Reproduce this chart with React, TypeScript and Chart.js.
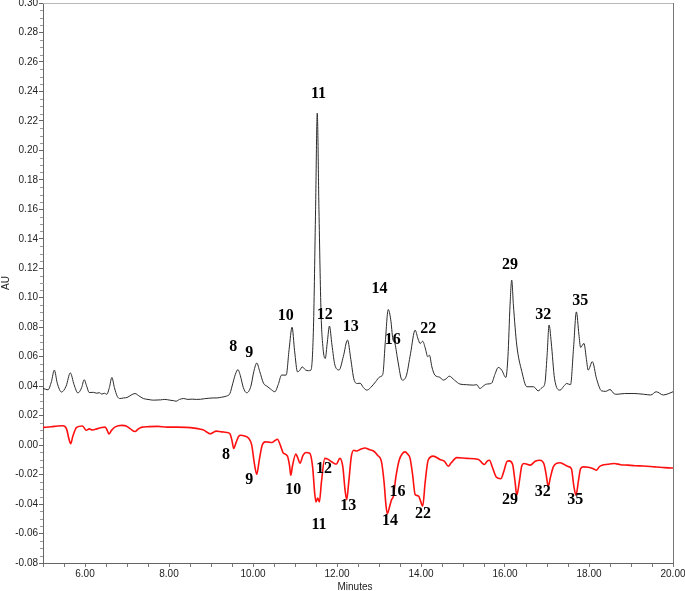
import React, { useEffect, useRef } from "react";
import { Chart, registerables } from "chart.js";

Chart.register(...registerables);

// Black trace (upper chromatogram): time (min) and absorbance (AU)
const blackTimes = [
  5.0, 5.12, 5.2, 5.27, 5.34, 5.44, 5.55, 5.65, 5.74, 5.83, 5.92, 5.98, 6.04, 6.1, 6.2, 6.28, 6.34, 6.4, 6.46, 6.52,
  6.58, 6.64, 6.7, 6.77, 6.83, 6.92, 7.0, 7.1, 7.19, 7.28, 7.39, 7.5, 7.63, 7.8, 7.9, 8.02, 8.1, 8.17, 8.25, 8.35,
  8.45, 8.55, 8.65, 8.75, 8.85, 8.95, 9.05, 9.14, 9.25, 9.37, 9.45, 9.52, 9.58, 9.64, 9.7, 9.77, 9.85, 9.95, 10.02,
  10.09, 10.16, 10.25, 10.33, 10.42, 10.52, 10.6, 10.68, 10.79, 10.86, 10.93, 10.99, 11.06, 11.12, 11.17, 11.25,
  11.32, 11.38, 11.44, 11.49, 11.53, 11.57, 11.62, 11.67, 11.72, 11.77, 11.82, 11.88, 11.95, 12.05, 12.15, 12.25,
  12.33, 12.4, 12.48, 12.55, 12.63, 12.71, 12.8, 12.92, 13.02, 13.09, 13.15, 13.22, 13.28, 13.33, 13.38, 13.45,
  13.55, 13.65, 13.75, 13.86, 13.93, 13.98, 14.04, 14.1, 14.16, 14.2, 14.26, 14.33, 14.45, 14.53, 14.6, 14.67, 14.8,
  14.93, 15.08, 15.25, 15.33, 15.4, 15.48, 15.56, 15.68, 15.76, 15.84, 15.92, 16.02, 16.07, 16.12, 16.16, 16.2,
  16.28, 16.4, 16.52, 16.68, 16.79, 16.88, 16.95, 17.0, 17.05, 17.1, 17.18, 17.31, 17.4, 17.47, 17.56, 17.63, 17.7,
  17.76, 17.8, 17.88, 17.94, 17.98, 18.08, 18.18, 18.3, 18.4, 18.5, 18.6, 18.67, 18.85, 19.07, 19.3, 19.47, 19.6,
  19.77, 19.9, 20.0,
];
const blackValues = [
  0.0385, 0.0375, 0.043, 0.0509, 0.042, 0.036, 0.04, 0.049, 0.041, 0.0354, 0.039, 0.0444, 0.04, 0.0357, 0.0358,
  0.0352, 0.0356, 0.0346, 0.0352, 0.0345, 0.039, 0.0459, 0.039, 0.033, 0.0316, 0.032, 0.0323, 0.034, 0.035, 0.0335,
  0.0316, 0.031, 0.0305, 0.0307, 0.031, 0.0305, 0.0302, 0.0298, 0.031, 0.0316, 0.031, 0.0312, 0.031, 0.0311, 0.0315,
  0.0318, 0.032, 0.032, 0.0325, 0.0333, 0.035, 0.042, 0.048, 0.0512, 0.047, 0.039, 0.0355, 0.04, 0.05, 0.0557, 0.05,
  0.042, 0.04, 0.038, 0.0362, 0.041, 0.0475, 0.0475, 0.065, 0.08, 0.064, 0.0497, 0.051, 0.0531, 0.051, 0.0505,
  0.0509, 0.08, 0.16, 0.2253, 0.16, 0.09, 0.065, 0.0588, 0.07, 0.0808, 0.068, 0.0543, 0.051, 0.06, 0.0713, 0.058,
  0.045, 0.0418, 0.042, 0.039, 0.0373, 0.039, 0.043, 0.0463, 0.048, 0.07, 0.092, 0.085, 0.072, 0.0689, 0.057,
  0.0441, 0.047, 0.062, 0.078, 0.072, 0.0689, 0.0705, 0.066, 0.06, 0.061, 0.053, 0.0475, 0.046, 0.0441, 0.045,
  0.0468, 0.044, 0.0414, 0.041, 0.0407, 0.041, 0.0384, 0.04, 0.0414, 0.042, 0.048, 0.0527, 0.051, 0.0459, 0.06,
  0.095, 0.112, 0.095, 0.0679, 0.05, 0.0396, 0.0396, 0.0368, 0.039, 0.042, 0.06, 0.0815, 0.07, 0.045, 0.0373, 0.04,
  0.0418, 0.041, 0.065, 0.0904, 0.075, 0.0663, 0.069, 0.058, 0.0509, 0.0566, 0.045, 0.0368, 0.0365, 0.0377, 0.0348,
  0.0345, 0.035, 0.035, 0.0345, 0.034, 0.0362, 0.034, 0.035, 0.0362,
];

// Red trace (lower, inverted chromatogram)
const redTimes = [
  5.0, 5.2, 5.35, 5.48, 5.56, 5.62, 5.66, 5.71, 5.8, 5.94, 6.03, 6.1, 6.18, 6.28, 6.4, 6.48, 6.53, 6.57, 6.63, 6.72,
  6.88, 6.98, 7.08, 7.19, 7.27, 7.36, 7.5, 7.73, 7.95, 8.2, 8.4, 8.6, 8.75, 8.84, 8.92, 8.98, 9.05, 9.12, 9.25, 9.37,
  9.45, 9.5, 9.54, 9.6, 9.66, 9.71, 9.8, 9.9, 9.97, 10.03, 10.09, 10.15, 10.22, 10.29, 10.37, 10.45, 10.52, 10.58,
  10.65, 10.72, 10.82, 10.87, 10.9, 10.94, 11.02, 11.07, 11.12, 11.19, 11.26, 11.35, 11.42, 11.47, 11.5, 11.54,
  11.58, 11.63, 11.71, 11.78, 11.87, 11.98, 12.07, 12.14, 12.19, 12.23, 12.28, 12.34, 12.4, 12.47, 12.55, 12.67,
  12.77, 12.87, 12.97, 13.06, 13.12, 13.17, 13.2, 13.25, 13.3, 13.34, 13.4, 13.48, 13.55, 13.62, 13.68, 13.74, 13.8,
  13.86, 13.94, 13.99, 14.04, 14.1, 14.17, 14.29, 14.45, 14.56, 14.65, 14.72, 14.85, 15.1, 15.37, 15.45, 15.51,
  15.57, 15.63, 15.7, 15.79, 15.9, 15.97, 16.05, 16.1, 16.18, 16.24, 16.28, 16.34, 16.4, 16.45, 16.6, 16.72, 16.83,
  16.93, 16.98, 17.03, 17.08, 17.15, 17.22, 17.31, 17.4, 17.5, 17.58, 17.64, 17.69, 17.75, 17.8, 17.87, 17.99, 18.1,
  18.18, 18.25, 18.31, 18.45, 18.6, 18.75, 18.92, 19.1, 19.3, 19.56, 19.75, 19.97, 20.0,
];
const redValues = [
  0.012, 0.0125, 0.013, 0.0131, 0.011, 0.004, 0.001, 0.006, 0.012, 0.013, 0.0101, 0.011, 0.0103, 0.011, 0.012,
  0.0122, 0.01, 0.0075, 0.01, 0.0124, 0.0134, 0.013, 0.011, 0.0092, 0.011, 0.0122, 0.0125, 0.0127, 0.0122, 0.0122,
  0.012, 0.0115, 0.0108, 0.01, 0.0085, 0.0077, 0.0085, 0.0095, 0.009, 0.0086, 0.0077, 0.003, -0.0023, 0.002, 0.006,
  0.0067, 0.0062, 0.0045, 0.0, -0.012, -0.0198, -0.01, 0.0, 0.0022, 0.002, 0.0018, 0.003, 0.004, 0.0, -0.0053,
  -0.0075, -0.014, -0.0205, -0.014, -0.006, -0.009, -0.0123, -0.007, -0.005, -0.0055, -0.015, -0.033, -0.0386,
  -0.036, -0.0386, -0.025, -0.009, -0.0095, -0.0113, -0.013, -0.009, -0.015, -0.03, -0.037, -0.025, -0.008, -0.0035,
  -0.004, -0.003, -0.002, -0.003, -0.004, -0.007, -0.0114, -0.025, -0.042, -0.0465, -0.042, -0.037, -0.035, -0.022,
  -0.0103, -0.006, -0.0046, -0.006, -0.009, -0.02, -0.0335, -0.0345, -0.038, -0.0415, -0.025, -0.0103, -0.0075,
  -0.0097, -0.011, -0.0143, -0.012, -0.0085, -0.009, -0.0097, -0.012, -0.0132, -0.011, -0.0103, -0.015, -0.0216,
  -0.0228, -0.018, -0.011, -0.0107, -0.013, -0.025, -0.034, -0.025, -0.014, -0.0125, -0.0136, -0.011, -0.0103,
  -0.013, -0.02, -0.0281, -0.022, -0.0148, -0.0125, -0.012, -0.013, -0.0145, -0.016, -0.028, -0.034, -0.024, -0.016,
  -0.0148, -0.015, -0.016, -0.017, -0.0145, -0.0136, -0.013, -0.0125, -0.0133, -0.0136, -0.014, -0.0142, -0.0148,
  -0.0152, -0.0155, -0.0155,
];

// Peak labels
const blackLabelText = ["8", "9", "10", "11", "12", "13", "14", "16", "22", "29", "32", "35"];
const blackLabelTimes = [9.53, 9.91, 10.78, 11.56, 11.71, 12.33, 13.01, 13.33, 14.17, 16.12, 16.91, 17.79];
const blackLabelValues = [0.0667, 0.0626, 0.0876, 0.2384, 0.0883, 0.0803, 0.1057, 0.0717, 0.0792, 0.1222, 0.0882, 0.0978];

const redLabelText = ["8", "9", "10", "11", "12", "13", "14", "16", "22", "29", "32", "35"];
const redLabelTimes = [9.36, 9.91, 10.96, 11.57, 11.69, 12.27, 13.26, 13.44, 14.05, 16.12, 16.9, 17.67];
const redLabelValues = [-0.0069, -0.0234, -0.0306, -0.0544, -0.0159, -0.0415, -0.0515, -0.0318, -0.0469, -0.037, -0.0318, -0.037];

const xMin = 5;
const xMax = 20;
const xStep = 0.5;
const xLabelEvery = 2;
const yMin = -0.08;
const yMax = 0.3;
const yStep = 0.02;
const yMinorStep = 0.005;
const xTitle = "Minutes";
const yTitle = "AU";

export default function App() {
  const ref = useRef<HTMLCanvasElement | null>(null);

  useEffect(() => {
    document.body.style.margin = "0";
    const canvas = ref.current;
    if (!canvas) return;

    const decorPlugin = {
      id: "decor",
      afterDraw(chart: any) {
        const ctx = chart.ctx;
        const xs = chart.scales.x;
        const ys = chart.scales.y;
        const area = chart.chartArea;
        ctx.save();
        // frame top & right
        ctx.lineWidth = 1;
        ctx.strokeStyle = "#b8b8b8";
        ctx.beginPath();
        ctx.moveTo(area.left, Math.round(area.top) + 0.5);
        ctx.lineTo(area.right, Math.round(area.top) + 0.5);
        ctx.stroke();
        ctx.strokeStyle = "#777";
        ctx.beginPath();
        ctx.moveTo(Math.round(area.right) + 0.5, area.top);
        ctx.lineTo(Math.round(area.right) + 0.5, area.bottom);
        ctx.stroke();
        // minor y ticks
        ctx.strokeStyle = "#999";
        const n = Math.round((yMax - yMin) / yMinorStep);
        for (let i = 0; i <= n; i++) {
          if (i % Math.round(yStep / yMinorStep) === 0) continue;
          const v = yMin + i * yMinorStep;
          const py = Math.round(ys.getPixelForValue(v)) + 0.5;
          ctx.beginPath();
          ctx.moveTo(area.left - 3, py);
          ctx.lineTo(area.left, py);
          ctx.stroke();
        }
        // axis titles
        ctx.fillStyle = "#222";
        ctx.font = "10px 'Liberation Sans', Arial, sans-serif";
        ctx.textAlign = "center";
        ctx.textBaseline = "middle";
        ctx.fillText(xTitle, (area.left + area.right) / 2 - 3, 587);
        ctx.save();
        ctx.translate(6, (area.top + area.bottom) / 2);
        ctx.rotate(-Math.PI / 2);
        ctx.fillText(yTitle, 0, 0);
        ctx.restore();
        // peak labels
        ctx.font = "bold 16px 'Liberation Serif', 'Times New Roman', serif";
        ctx.fillStyle = "#000";
        const drawLabels = (texts: string[], ts: number[], vs: number[]) => {
          for (let i = 0; i < texts.length; i++) {
            ctx.fillText(texts[i], xs.getPixelForValue(ts[i]), ys.getPixelForValue(vs[i]));
          }
        };
        drawLabels(blackLabelText, blackLabelTimes, blackLabelValues);
        drawLabels(redLabelText, redLabelTimes, redLabelValues);
        ctx.restore();
      },
    };

    const chart = new Chart(canvas, {
      type: "line",
      data: {
        datasets: [
          {
            data: blackTimes.map((t, i) => ({ x: t, y: blackValues[i] })),
            borderColor: "#2a2a2a",
            borderWidth: 1,
            pointRadius: 0,
            cubicInterpolationMode: "monotone",
          },
          {
            data: redTimes.map((t, i) => ({ x: t, y: redValues[i] })),
            borderColor: "#ff1010",
            borderWidth: 1.6,
            pointRadius: 0,
            cubicInterpolationMode: "monotone",
          },
        ],
      },
      options: {
        animation: false,
        responsive: false,
        devicePixelRatio: 1,
        layout: { padding: { top: 3, right: 12, left: 0, bottom: 0 } },
        plugins: { legend: { display: false }, tooltip: { enabled: false } },
        scales: {
          x: {
            type: "linear",
            min: xMin,
            max: xMax,
            afterFit: (s: any) => {
              s.height = 28;
              s.paddingLeft = 0;
              s.paddingRight = 0;
            },
            afterBuildTicks: (s: any) => {
              const t = [];
              for (let v = xMin; v <= xMax + 1e-9; v += xStep) t.push({ value: Math.round(v * 100) / 100 });
              s.ticks = t;
            },
            ticks: {
              autoSkip: false,
              maxRotation: 0,
              padding: 1,
              color: "#222",
              font: { family: "'Liberation Sans', Arial, sans-serif", size: 10 },
              callback: (v: any) => {
                const n = Number(v);
                return Math.abs(n % xLabelEvery) < 1e-6 ? n.toFixed(2) : "";
              },
            },
            grid: { drawOnChartArea: false, tickLength: 4, color: "#777" },
            border: { color: "#666", width: 1 },
          },
          y: {
            type: "linear",
            min: yMin,
            max: yMax,
            afterFit: (s: any) => {
              s.width = 43;
              s.paddingTop = 0;
              s.paddingBottom = 0;
            },
            afterBuildTicks: (s: any) => {
              const t = [];
              const n = Math.round((yMax - yMin) / yStep);
              for (let i = 0; i <= n; i++) t.push({ value: Math.round((yMin + i * yStep) * 1000) / 1000 });
              s.ticks = t;
            },
            ticks: {
              padding: 1,
              color: "#222",
              font: { family: "'Liberation Sans', Arial, sans-serif", size: 10 },
              callback: (v: any) => {
                const n = Number(v);
                return Math.abs(n) < 1e-9 ? "0.00" : n.toFixed(2);
              },
            },
            grid: { drawOnChartArea: false, tickLength: 4, color: "#666" },
            border: { color: "#666", width: 1 },
          },
        },
      },
      plugins: [decorPlugin],
    } as any);

    return () => chart.destroy();
  }, []);

  return (
    <div style={{ width: 685, height: 591 }}>
      <canvas ref={ref} width={685} height={591} />
    </div>
  );
}
